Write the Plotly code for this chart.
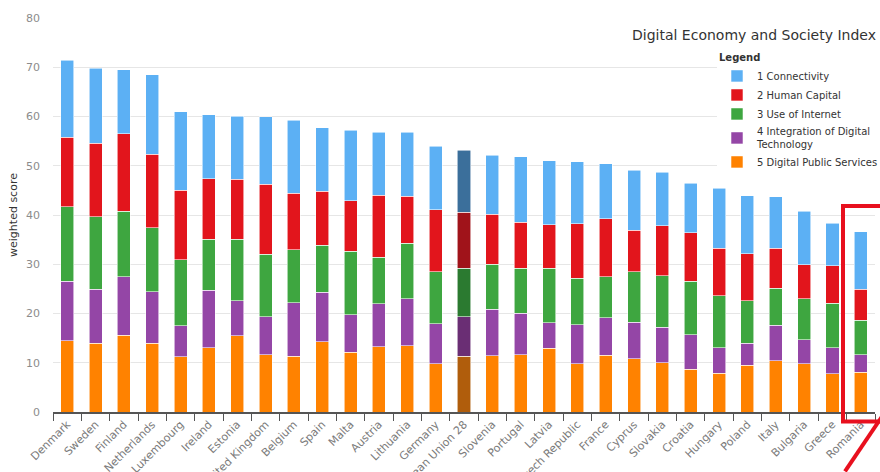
import plotly.graph_objects as go

countries = ["Denmark", "Sweden", "Finland", "Netherlands", "Luxembourg", "Ireland", "Estonia",
             "United Kingdom", "Belgium", "Spain", "Malta", "Austria", "Lithuania", "Germany",
             "European Union 28", "Slovenia", "Portugal", "Latvia", "Czech Republic", "France",
             "Cyprus", "Slovakia", "Croatia", "Hungary", "Poland", "Italy", "Bulgaria", "Greece", "Romania"]

digital_public_services = [14.5, 14.0, 15.6, 14.0, 11.2, 13.0, 15.5, 11.6, 11.3, 14.3, 12.1, 13.3, 13.5, 9.8,
                           11.3, 11.4, 11.6, 12.9, 9.8, 11.5, 10.8, 10.0, 8.7, 7.9, 9.5, 10.4, 9.8, 7.8, 8.1]
integration_digital_tech = [12.1, 10.9, 11.9, 10.4, 6.3, 11.7, 7.1, 7.7, 10.9, 10.0, 7.6, 8.7, 9.5, 8.1,
                            8.0, 9.5, 8.5, 5.2, 7.9, 7.6, 7.4, 7.2, 7.0, 5.1, 4.5, 7.2, 4.9, 5.2, 3.5]
use_of_internet = [15.1, 14.7, 13.3, 13.0, 13.4, 10.4, 12.5, 12.7, 10.7, 9.6, 12.9, 9.4, 11.3, 10.6,
                   9.9, 9.1, 9.1, 11.1, 9.5, 8.4, 10.3, 10.5, 10.9, 10.6, 8.6, 7.5, 8.3, 9.1, 7.0]
human_capital = [14.1, 15.0, 15.7, 14.9, 14.1, 12.3, 12.2, 14.2, 11.5, 10.9, 10.3, 12.6, 9.5, 12.6,
                 11.4, 10.2, 9.3, 8.8, 11.0, 11.7, 8.4, 10.1, 9.8, 9.6, 9.5, 8.1, 6.9, 7.6, 6.3]
connectivity = [15.6, 15.2, 13.0, 16.2, 16.0, 13.0, 12.8, 13.7, 14.8, 12.9, 14.3, 12.8, 13.0, 12.9,
                12.5, 11.9, 13.3, 13.0, 12.6, 11.2, 12.2, 10.9, 10.0, 12.2, 11.8, 10.5, 10.9, 8.6, 11.7]

series = [
    ("5 Digital Public Services", digital_public_services, "#ff8200", "#b05d0c"),
    ("4 Integration of Digital<br>Technology", integration_digital_tech, "#9446a6", "#6a2e74"),
    ("3 Use of Internet", use_of_internet, "#3ea640", "#2b7a30"),
    ("2 Human Capital", human_capital, "#e2151c", "#a0131a"),
    ("1 Connectivity", connectivity, "#5cb0f4", "#3b6f9b"),
]

highlight = "European Union 28"
font_family = "DejaVu Sans"

fig = go.Figure()
for name, vals, col, dark in series:
    colors = [dark if c == highlight else col for c in countries]
    fig.add_trace(go.Bar(
        x=countries, y=vals, name=name,
        marker=dict(color=colors, line=dict(color="rgba(255,255,255,0.7)", width=0.8)),
    ))

# plot area pixel geometry used for annotation shapes
W, H = 880, 472
L, R, T, B = 53, 875, 17.5, 412.5
def px(x):
    return (x - L) / (R - L)
def py(y):
    return (B - y) / (B - T)

fig.update_layout(
    width=W, height=H,
    margin=dict(l=L, r=W - R, t=T, b=H - B, autoexpand=False),
    barmode="stack", bargap=0.54,
    plot_bgcolor="white", paper_bgcolor="white",
    font=dict(family=font_family, color="#666666", size=11),
    title=dict(text="Digital Economy and Society Index", x=876 / W, xanchor="right",
               xref="container", yref="container", y=1 - 35 / H, yanchor="middle",
               font=dict(size=14, color="#333333", family=font_family)),
    legend=dict(
        title=dict(text="<b>Legend</b>", font=dict(size=10, color="#333333")),
        traceorder="reversed", font=dict(size=10, color="#333333"),
        x=px(717), xanchor="left", y=py(48), yanchor="top",
        bgcolor="white", itemwidth=30, tracegroupgap=0,
    ),
    showlegend=True,
)
fig.update_yaxes(
    range=[0, 80], dtick=10, showgrid=True, gridcolor="#e6e6e6", gridwidth=1,
    zeroline=False, showline=False, ticks="", ticklabelstandoff=12,
    tickfont=dict(size=11, color="#8c8c8c"),
    title=dict(text="weighted score", font=dict(size=11, color="#333333"), standoff=6),
)
fig.update_xaxes(
    type="category", showline=True, linecolor="#555555", linewidth=1.5,
    ticks="outside", ticklen=7, tickcolor="#555555", tickson="boundaries",
    tickangle=-45, tickfont=dict(size=11, color="#7a7a7a"), automargin=False,
)

red = "#e8101e"
fig.add_shape(type="rect", xref="paper", yref="paper",
              x0=px(843), x1=px(895), y0=py(422), y1=py(206),
              line=dict(color=red, width=4), fillcolor="rgba(0,0,0,0)")
fig.add_shape(type="line", xref="paper", yref="paper",
              x0=px(845), y0=py(472), x1=px(882), y1=py(417),
              line=dict(color=red, width=4))

fig.write_html("out.html")
